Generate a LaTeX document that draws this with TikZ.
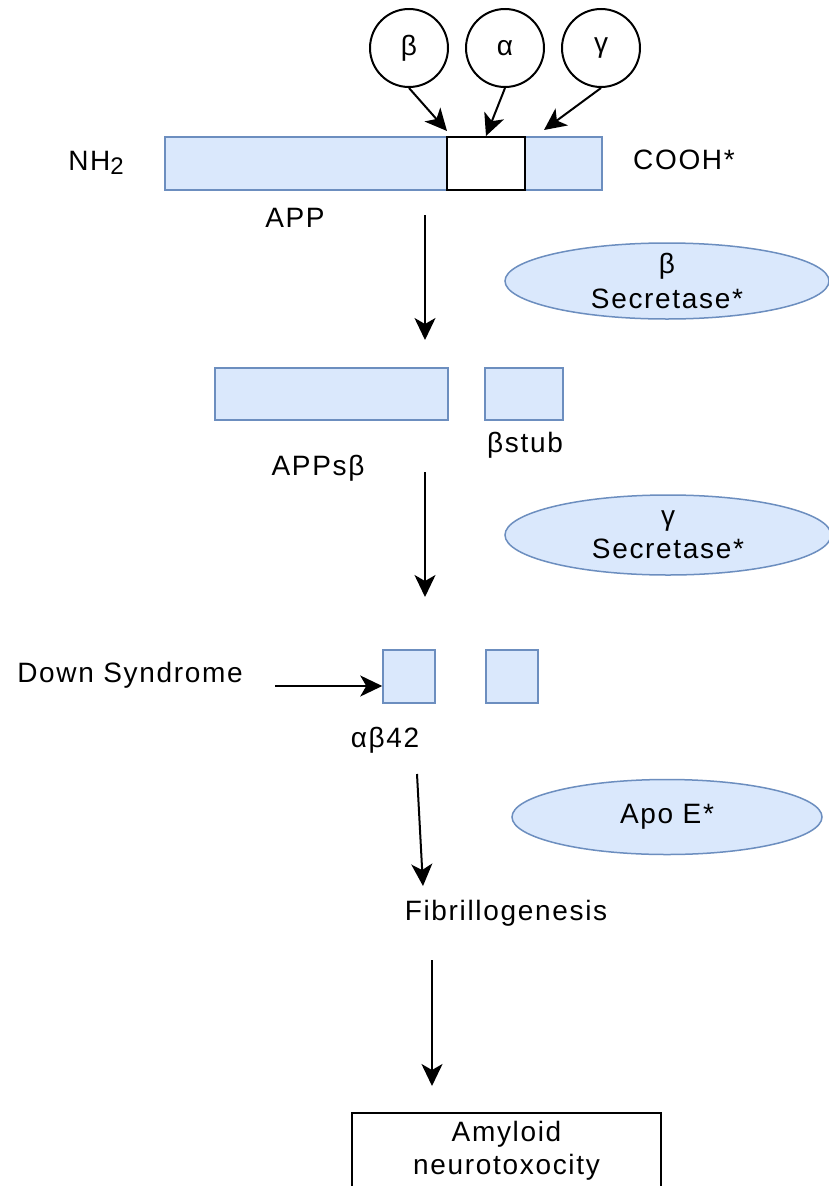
\documentclass[tikz,border=0pt]{standalone}
\usepackage{fontspec}
\setmainfont{Liberation Sans}[LetterSpace=6]
\usetikzlibrary{arrows.meta,shapes.geometric}
\definecolor{fillblue}{HTML}{DAE8FC}
\definecolor{strokeblue}{HTML}{6C8EBF}
\begin{document}
\begin{tikzpicture}[x=1pt,y=-1pt,
  every node/.style={font=\fontsize{28}{33}\selectfont, inner sep=0pt},
  bluebox/.style={rectangle, draw=strokeblue, fill=fillblue, line width=1.5pt},
  blueell/.style={ellipse, draw=strokeblue, fill=fillblue, line width=1.5pt},
  enzyme/.style={circle, draw=black, fill=white, line width=2pt, minimum size=78pt},
  arr/.style={line width=2pt, -{Stealth[length=22pt,width=21pt,inset=6pt]}},
  plainbox/.style={rectangle, draw=black, fill=white, line width=2pt}
]
\useasboundingbox (0,0) rectangle (829,1186);
\clip (0,0) rectangle (829,1186);
\fill[white] (0,0) rectangle (829,1186);

% secretases acting on APP
\node[enzyme] (cb) at (409,48) {β};
\node[enzyme] (ca) at (505,48) {α};
\node[enzyme] (cg) at (601,48) {γ};

% full-length APP with the cleavage region
\node[bluebox, minimum width=437pt, minimum height=53pt] (app) at (383.5,163.5) {};
\node[plainbox, minimum width=78pt, minimum height=53pt] (cleave) at (486,163.5) {};
\node (nh) at (96,163) {NH\raisebox{-4pt}{\fontsize{24}{24}\selectfont 2}};
\node (cooh) at (684,160) {COOH*};
\node (applbl) at (295,218) {APP};

\coordinate (tb) at (447,131);
\coordinate (tg) at (544,130);
\draw[arr] (cb.south) -- (tb);
\draw[arr] (ca.south) -- (cleave.north);
\draw[arr] (cg.south) -- (tg);

% beta secretase step
\coordinate (a1s) at (425,215);
\coordinate (a1e) at (425,340);
\draw[arr] (a1s) -- (a1e);
\node[blueell, minimum width=324pt, minimum height=76pt] (bsec) at (667,281) {};
\node[align=center, font=\fontsize{28}{35}\selectfont] (bsect) at (bsec) {β\\Secretase*};

\node[bluebox, minimum width=233pt, minimum height=52pt] (appsb) at (331.5,394) {};
\node[bluebox, minimum width=78pt, minimum height=52pt] (bstub) at (524,394) {};
\node (bstublbl) at (525,445) {βstub};
\node (appsblbl) at (318,468) {APPsβ};

% gamma secretase step
\coordinate (a2s) at (425,472);
\coordinate (a2e) at (425,597);
\draw[arr] (a2s) -- (a2e);
\node[blueell, minimum width=326pt, minimum height=80pt] (gsec) at (668,535) {};
\node[align=center, font=\fontsize{28}{33}\selectfont] (gsect) at (gsec) {γ\\Secretase*};

% A-beta fragments
\node[bluebox, minimum width=52pt, minimum height=53pt] (f1) at (409,676.5) {};
\node[bluebox, minimum width=52pt, minimum height=53pt] (f2) at (512,676.5) {};
\node (ablbl) at (385,740) {αβ42};
\node (ds) at (130,675) {Down Syndrome};
\coordinate (dss) at (275,686);
\draw[arr] (dss) -- (dss -| f1.west);

% aggregation
\coordinate (a3s) at (417,774);
\coordinate (a3e) at (423,886);
\draw[arr] (a3s) -- (a3e);
\node[blueell, minimum width=310pt, minimum height=75pt] (apoe) at (667,817) {};
\node (apoet) at (apoe) {Apo E*};
\node (fib) at (506,913) {Fibrillogenesis};

\coordinate (a4s) at (432,960);
\coordinate (a4e) at (432,1086);
\draw[arr] (a4s) -- (a4e);
\node[plainbox, minimum width=309pt, minimum height=76pt, align=center, line width=1.5pt] (amy) at (506.5,1151) {Amyloid\\neurotoxocity};
\end{tikzpicture}
\end{document}
